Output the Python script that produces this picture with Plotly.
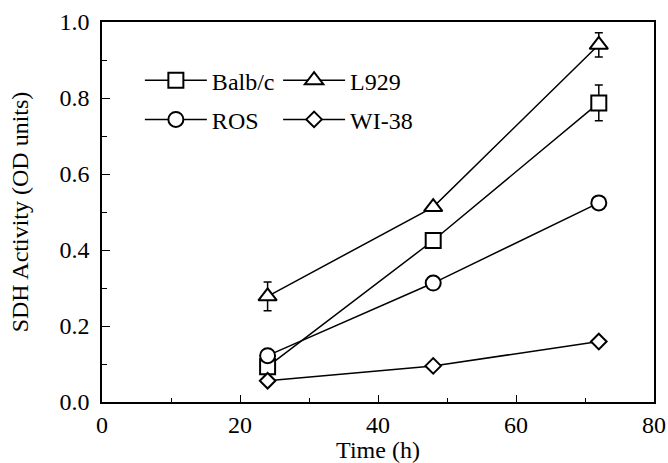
import plotly.graph_objects as go

time_h = [24, 48, 72]
balb_c = [0.093, 0.425, 0.787]
balb_c_err = [None, None, 0.047]
l929 = [0.278, 0.513, 0.94]
l929_err = [0.038, None, 0.032]
ros = [0.122, 0.313, 0.524]
wi38 = [0.056, 0.095, 0.159]

x_ticks = [0, 20, 40, 60, 80]
y_ticks = [0.0, 0.2, 0.4, 0.6, 0.8, 1.0]
y_tick_text = ["0.0", "0.2", "0.4", "0.6", "0.8", "1.0"]

FONT = "Liberation Serif, Times New Roman, serif"
LINE = dict(color="black", width=1.5)

def mk(symbol, size):
    return dict(symbol=symbol, size=size, color="white",
                line=dict(color="black", width=2))

def err(vals):
    if all(v is None for v in vals):
        return None
    return dict(type="data", array=[v if v is not None else float("nan") for v in vals],
                visible=True, color="black", thickness=1.5, width=4)

fig = go.Figure()
series = [
    ("Balb/c", balb_c, balb_c_err, "square", 15, "legend"),
    ("L929", l929, l929_err, "triangle-up", 16, "legend2"),
    ("ROS", ros, [None] * 3, "circle", 15, "legend"),
    ("WI-38", wi38, [None] * 3, "diamond", 12, "legend2"),
]
for name, vals, e, sym, size, lg in series:
    fig.add_trace(go.Scatter(
        x=time_h, y=vals, name=name, mode="lines+markers",
        line=LINE, marker=mk(sym, size), error_y=err(e),
        legend=lg, legendgroup=name,
    ))

legend_common = dict(
    font=dict(family=FONT, size=24, color="black"),
    bgcolor="rgba(0,0,0,0)", borderwidth=0,
    tracegroupgap=5, itemwidth=62,
    xanchor="left", yanchor="top", traceorder="grouped",
)

fig.update_layout(
    width=668, height=463,
    margin=dict(l=102, r=14, t=22, b=61),
    paper_bgcolor="white", plot_bgcolor="white",
    font=dict(family=FONT, size=24, color="black"),
    showlegend=True,
    legend=dict(x=0.0686, y=0.905, **legend_common),
    legend2=dict(x=0.319, y=0.905, **legend_common),
    xaxis=dict(
        range=[0, 80], tickvals=x_ticks, ticktext=[str(v) for v in x_ticks],
        ticks="inside", ticklen=7, tickwidth=1.2, tickcolor="black",
        minor=dict(ticks="inside", dtick=10, ticklen=4, tickwidth=1, tickcolor="black"),
        showline=True, linecolor="black", linewidth=1.5, mirror=True,
        showgrid=False, zeroline=False, ticklabelstandoff=0, automargin=False,
        tickfont=dict(family=FONT, size=24),
        title=dict(text="Time (h)", font=dict(family=FONT, size=24), standoff=2),
    ),
    yaxis=dict(
        range=[0, 1.0], tickvals=y_ticks, ticktext=y_tick_text,
        ticks="inside", ticklen=8, tickwidth=1.2, tickcolor="black",
        minor=dict(ticks="inside", dtick=0.1, ticklen=5, tickwidth=1, tickcolor="black"),
        showline=True, linecolor="black", linewidth=1.5, mirror=True,
        showgrid=False, zeroline=False, ticklabelstandoff=6, automargin=False,
        tickfont=dict(family=FONT, size=24),
        title=dict(text="SDH Activity (OD units)", font=dict(family=FONT, size=24), standoff=24),
    ),
)

fig.write_html(
    "out.html",
    config={"displayModeBar": False},
    post_script="document.body.style.margin='0';document.body.style.overflow='hidden';",
)
